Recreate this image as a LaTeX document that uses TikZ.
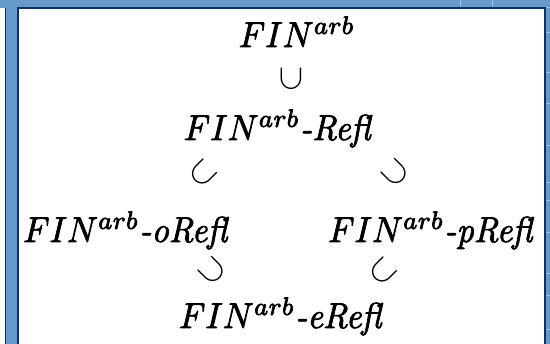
\documentclass[tikz,border=0pt]{standalone}
\definecolor{bgblue}{RGB}{102,153,204}
\definecolor{edge}{RGB}{10,50,100}
\definecolor{tick}{RGB}{150,195,235}
\newcommand{\heavytext}[1]{\special{pdf:literal direct 2 Tr 0.22 w}#1\special{pdf:literal direct 0 Tr}}
\tikzset{
  setlabel/.style={inner sep=0pt, anchor=base, xscale=3.38, yscale=3.6},
  rel/.style={inner sep=0pt, anchor=center, scale=3.55},
}
\begin{document}
\begin{tikzpicture}[x=1pt,y=-1pt]
\useasboundingbox (0,0) rectangle (550,344);
% background and frames
\fill[bgblue] (0,0) rectangle (550,344);
\fill[white] (0,8) rectangle (5,344);
\draw[edge, line width=1.5pt] (5.5,8) -- (5.5,344);
\fill[white] (18,8) rectangle (544,344);
\draw[edge, line width=2pt] (18,344) -- (18,8) -- (544.5,8) -- (544.5,344);
\foreach \yy in {7,32,72,103,145,182,200,232,273,295,329}
  \draw[tick, line width=0.8pt] (546,\yy) -- (550,\yy);
\draw[tick, line width=0.8pt] (460,0) -- (460,6);
\draw[tick, line width=0.8pt] (492,0) -- (492,6);
% sets
\node[setlabel] (top)   at (297,47)  {\heavytext{$FIN^{arb}$}};
\node[setlabel] (refl)  at (278,140) {\heavytext{$FIN^{arb}$\textit{-Refl}}};
\node[setlabel] (orefl) at (126,242) {\heavytext{$FIN^{arb}$\textit{-oRefl}}};
\node[setlabel] (prefl) at (431,242) {\heavytext{$FIN^{arb}$\textit{-pRefl}}};
\node[setlabel] (erefl) at (281,328) {\heavytext{$FIN^{arb}$\textit{-eRefl}}};
% inclusion symbols
\node[rel, rotate=90]  (s1) at (291,79)  {$\subset$};
\node[rel, rotate=45]  (s2) at (203,173) {$\subset$};
\node[rel, rotate=135] (s3) at (395,173) {$\subset$};
\node[rel, rotate=135] (s4) at (212,271) {$\subset$};
\node[rel, rotate=45]  (s5) at (383,271) {$\subset$};
\end{tikzpicture}
\end{document}
